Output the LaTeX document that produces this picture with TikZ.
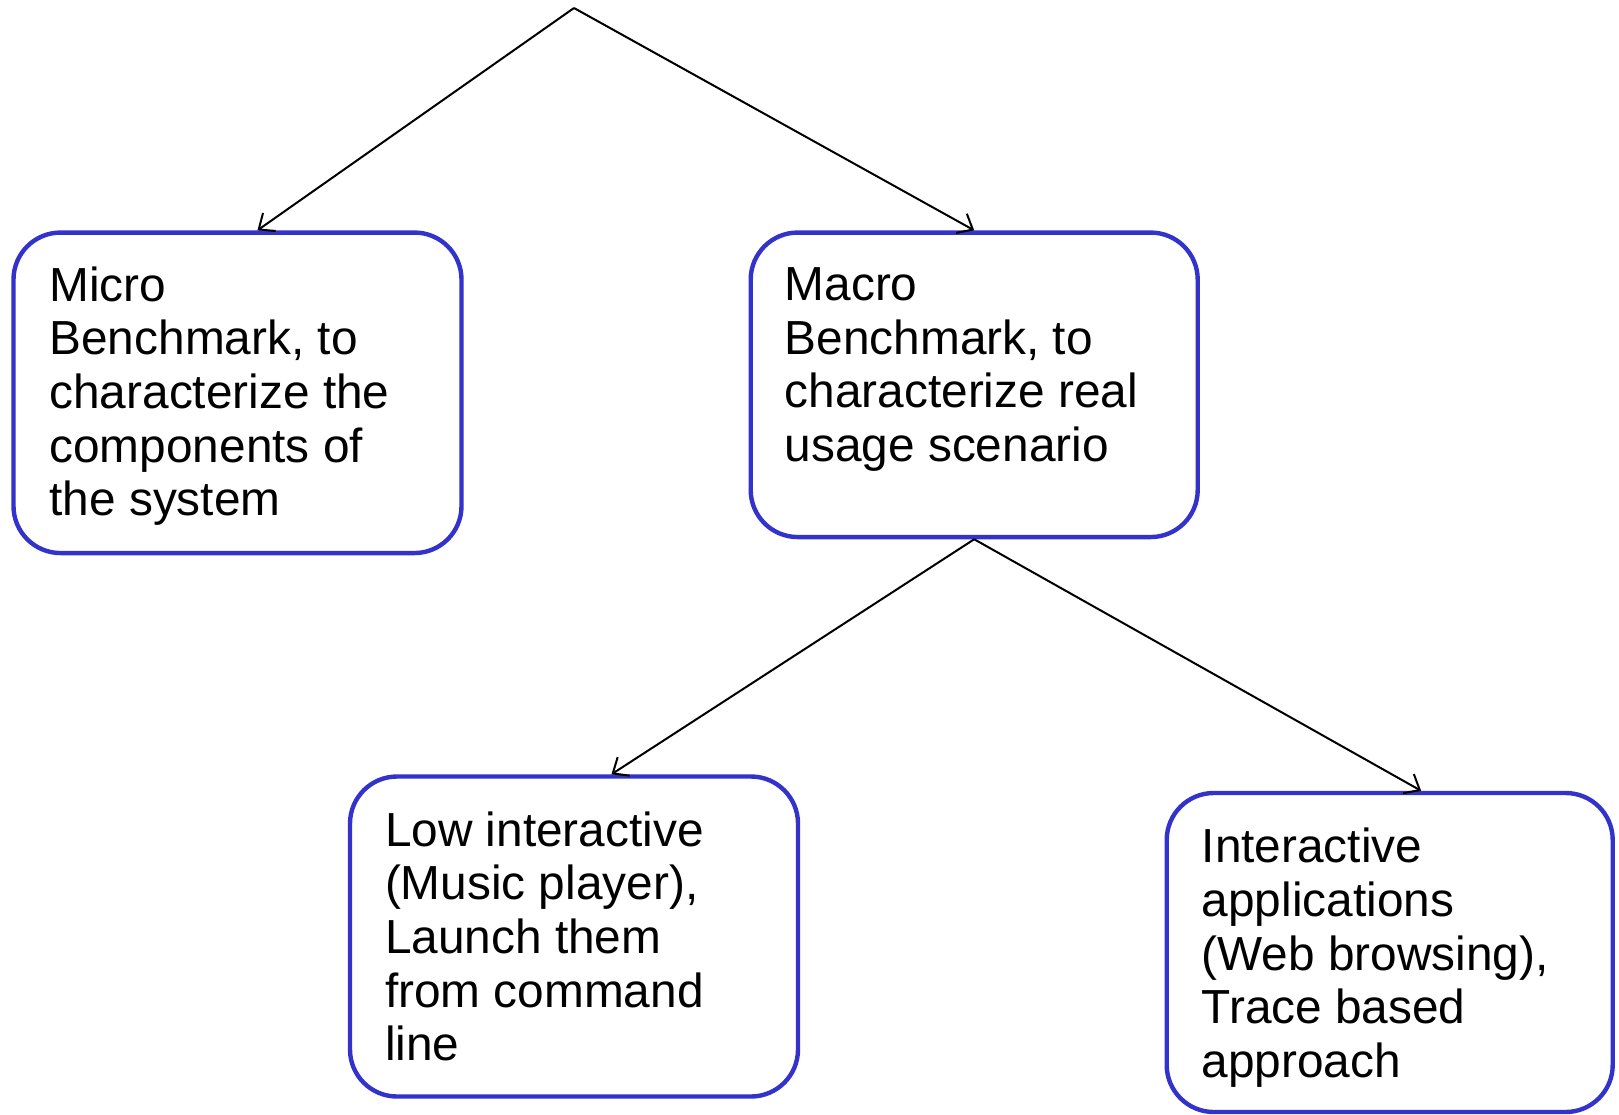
\documentclass[tikz,border=0pt]{standalone}
\usepackage{fontspec}
\setmainfont{Liberation Sans}
\usepackage{tikz}
\usetikzlibrary{calc}
\usetikzlibrary{positioning}
\usetikzlibrary{arrows.meta}
\definecolor{boxblue}{RGB}{51,51,204}
\tikzset{
  benchbox/.style={draw=boxblue, line width=4.4pt, rounded corners=47pt, fill=white, inner sep=0pt},
  benchtext/.style={align=left, inner sep=0pt, font=\fontsize{47.8}{53.7}\selectfont},
  flow/.style={draw=black, line width=2pt, -{Straight Barb[length=13pt,width=22pt,line width=2pt]}}
}

\begin{document}
\begin{tikzpicture}[x=1pt,y=-1pt]
\useasboundingbox (0,0) rectangle (1619,1114);
% boxes
\node[benchbox, minimum width=448pt, minimum height=320.5pt] (micro) at (237.5,392.8) {};
\node[benchbox, minimum width=447pt, minimum height=304.5pt] (macro) at (974.2,384.8) {};
\node[benchbox, minimum width=448pt, minimum height=320pt] (low) at (574,936.5) {};
\node[benchbox, minimum width=446pt, minimum height=319pt] (inter) at (1389.7,952.5) {};
% box labels
\node[benchtext, below right=36pt and 38pt of micro.north west] (microtext)
  {Micro\\Benchmark, to\\characterize the\\components of\\the system};
\node[benchtext, below right=37pt and 36pt of macro.north west] (macrotext)
  {Macro\\Benchmark, to\\characterize real\\usage scenario};
\node[benchtext, below right=37pt and 37pt of low.north west] (lowtext)
  {Low interactive\\(Music player),\\Launch them\\from command\\line};
\node[benchtext, below right=37pt and 37pt of inter.north west] (intertext)
  {Interactive\\applications\\(Web browsing),\\Trace based\\approach};
% connectors
\coordinate (root) at (574,8);
\draw[flow] (root) -- (micro.83.6);
\draw[flow] (root) -- (macro.90.7);
\draw[flow] (macro.south) -- (low.77.7);
\draw[flow] (macro.south) -- (inter.79.3);
\end{tikzpicture}
\end{document}
